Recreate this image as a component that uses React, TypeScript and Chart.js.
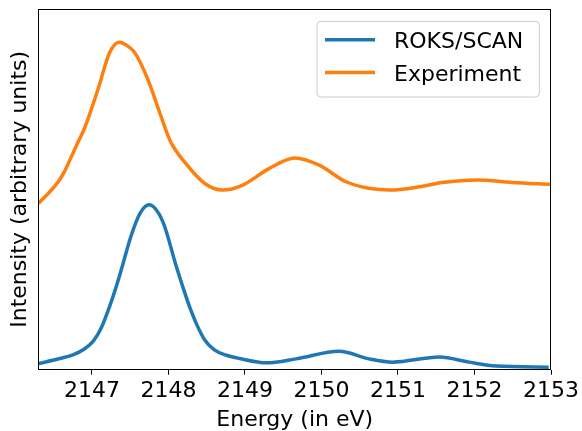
import React, { useEffect, useRef } from "react";
import { Chart, registerables } from "chart.js";

Chart.register(...registerables);

const roksEnergy = [2146.3, 2146.58, 2146.76, 2146.89, 2147.02, 2147.13, 2147.23, 2147.32, 2147.39, 2147.51, 2147.63, 2147.75, 2147.87, 2147.95, 2148.1, 2148.19, 2148.28, 2148.37, 2148.47, 2148.6, 2148.76, 2148.93, 2149.28, 2149.67, 2150.23, 2150.62, 2150.93, 2151.54, 2151.93, 2152.28, 2152.97];
const roksIntensity = [0.017, 0.031, 0.042, 0.056, 0.08, 0.12, 0.175, 0.232, 0.282, 0.37, 0.434, 0.457, 0.434, 0.397, 0.288, 0.228, 0.172, 0.125, 0.084, 0.055, 0.04, 0.031, 0.019, 0.03, 0.051, 0.03, 0.021, 0.035, 0.021, 0.01, 0.007];

const expEnergy = [2146.3, 2146.43, 2146.56, 2146.64, 2146.73, 2146.82, 2146.9, 2147.08, 2147.23, 2147.36, 2147.47, 2147.56, 2147.73, 2147.9, 2148.03, 2148.21, 2148.47, 2148.71, 2148.97, 2149.32, 2149.65, 2149.97, 2150.32, 2150.62, 2150.89, 2151.28, 2151.58, 2152.04, 2152.49, 2153.0];
const expIntensity = [0.461, 0.489, 0.521, 0.549, 0.59, 0.632, 0.668, 0.778, 0.879, 0.908, 0.897, 0.879, 0.805, 0.704, 0.631, 0.576, 0.517, 0.498, 0.512, 0.558, 0.587, 0.567, 0.521, 0.503, 0.498, 0.507, 0.519, 0.526, 0.519, 0.514];

const xTickValues = [2147, 2148, 2149, 2150, 2151, 2152, 2153];
const seriesLabels = ["ROKS/SCAN", "Experiment"];
const seriesColors = ["#1f77b4", "#ff7f0e"];

const FONT = "'DejaVu Sans', sans-serif";

const framePlugin = {
  id: "frame",
  afterDatasetsDraw(chart: any) {
    const { ctx, chartArea } = chart;
    ctx.save();
    ctx.strokeStyle = "#000";
    ctx.lineWidth = 1;
    const l = Math.round(chartArea.left) + 0.5;
    const r = Math.round(chartArea.right) - 0.5;
    const t = Math.round(chartArea.top) + 0.5;
    const b = Math.round(chartArea.bottom) - 0.5;
    ctx.strokeRect(l, t, r - l, b - t);
    ctx.restore();
  },
};

const legendPlugin = {
  id: "innerLegend",
  afterDraw(chart: any) {
    const { ctx, chartArea } = chart;
    const boxR = chartArea.right - 11.6;
    const boxT = chartArea.top + 12.4;
    const boxW = 222.4;
    const boxH = 75.6;
    const boxL = boxR - boxW;
    ctx.save();
    ctx.beginPath();
    const rad = 4;
    ctx.moveTo(boxL + rad, boxT);
    ctx.arcTo(boxR, boxT, boxR, boxT + boxH, rad);
    ctx.arcTo(boxR, boxT + boxH, boxL, boxT + boxH, rad);
    ctx.arcTo(boxL, boxT + boxH, boxL, boxT, rad);
    ctx.arcTo(boxL, boxT, boxR, boxT, rad);
    ctx.closePath();
    ctx.fillStyle = "rgba(255,255,255,0.8)";
    ctx.fill();
    ctx.strokeStyle = "#cccccc";
    ctx.lineWidth = 1;
    ctx.stroke();
    chart.data.datasets.forEach((ds: any, i: number) => {
      const rowY = boxT + 18.3 + i * 32.7;
      ctx.beginPath();
      ctx.strokeStyle = ds.borderColor;
      ctx.lineWidth = 3.5;
      ctx.moveTo(boxL + 8, rowY);
      ctx.lineTo(boxL + 58, rowY);
      ctx.stroke();
      ctx.fillStyle = "#000";
      ctx.font = `22px ${FONT}`;
      ctx.textBaseline = "alphabetic";
      ctx.textAlign = "left";
      ctx.fillText(ds.label, boxL + 77, rowY + 8.3);
    });
    ctx.restore();
  },
};

export default function App() {
  const canvasRef = useRef<HTMLCanvasElement | null>(null);

  useEffect(() => {
    if (!canvasRef.current) return;
    const chart = new Chart(canvasRef.current, {
      type: "line",
      data: {
        datasets: [
          {
            label: seriesLabels[0],
            data: roksEnergy.map((x, i) => ({ x, y: roksIntensity[i] })),
            borderColor: seriesColors[0],
            backgroundColor: seriesColors[0],
            borderWidth: 3.5,
            pointRadius: 0,
            cubicInterpolationMode: "monotone",
            fill: false,
          },
          {
            label: seriesLabels[1],
            data: expEnergy.map((x, i) => ({ x, y: expIntensity[i] })),
            borderColor: seriesColors[1],
            backgroundColor: seriesColors[1],
            borderWidth: 3.5,
            pointRadius: 0,
            cubicInterpolationMode: "monotone",
            fill: false,
          },
        ],
      },
      options: {
        animation: false,
        responsive: false,
        maintainAspectRatio: false,
        layout: { padding: { top: 9, right: 30, left: 4, bottom: 0 } },
        plugins: {
          legend: { display: false },
          tooltip: { enabled: false },
        },
        scales: {
          x: {
            type: "linear",
            min: 2146.3,
            max: 2153,
            afterBuildTicks: (scale: any) => {
              scale.ticks = xTickValues.map((v) => ({ value: v }));
            },
            grid: {
              display: true,
              drawOnChartArea: false,
              drawTicks: true,
              tickLength: 5,
              tickWidth: 1,
              tickColor: "#000",
              color: "#000",
            },
            border: { display: false },
            ticks: {
              color: "#000",
              font: { family: FONT, size: 22 },
              padding: 3,
              maxRotation: 0,
              autoSkip: false,
              callback: (v: any) => String(v),
            },
            title: {
              display: true,
              text: "Energy (in eV)",
              color: "#000",
              font: { family: FONT, size: 22 },
              padding: { top: 0, bottom: -2.5 },
            },
          },
          y: {
            type: "linear",
            min: 0,
            max: 1,
            grid: { display: false, drawTicks: false, tickLength: 0 },
            border: { display: false },
            ticks: { display: false },
            title: {
              display: true,
              text: "Intensity (arbitrary units)",
              color: "#000",
              font: { family: FONT, size: 22 },
              padding: { top: 3, bottom: 5 },
            },
          },
        },
      },
      plugins: [framePlugin, legendPlugin],
    });
    return () => chart.destroy();
  }, []);

  return (
    <div style={{ position: "fixed", left: 0, top: 0, width: 582, height: 431, background: "#fff" }}>
      <canvas ref={canvasRef} width={582} height={431} style={{ display: "block" }} />
    </div>
  );
}
